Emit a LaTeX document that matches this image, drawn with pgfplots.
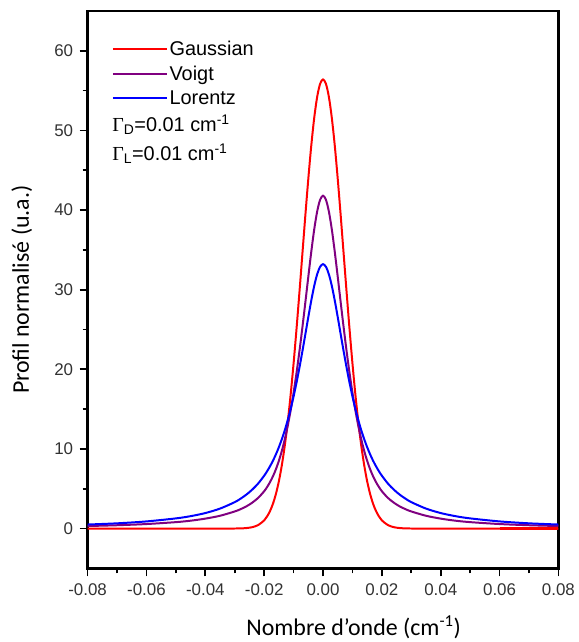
\documentclass[border=0pt]{standalone}
\usepackage{pgfplots}
\usepackage{pgfplotstable}
\pgfplotsset{compat=1.18}
\usepackage{fontspec}
\setmainfont{Liberation Sans}
\setsansfont{Liberation Sans}
\newfontfamily\carlito{Carlito}
\newfontfamily\serifG{Liberation Serif}
\definecolor{gaus}{RGB}{255,0,0}
\definecolor{voigt}{RGB}{128,0,128}
\definecolor{lor}{RGB}{0,0,255}
\definecolor{ticktext}{RGB}{50,50,50}

\pgfplotstableread{
x G V L
-0.080 0.00 0.32 0.51
-0.070 0.00 0.42 0.66
-0.060 0.00 0.57 0.90
-0.050 0.00 0.81 1.28
-0.045 0.00 0.99 1.56
-0.040 0.00 1.25 1.95
-0.035 0.00 1.61 2.51
-0.030 0.01 2.15 3.32
-0.028 0.02 2.44 3.76
-0.026 0.07 2.80 4.28
-0.024 0.18 3.27 4.91
-0.022 0.45 3.87 5.68
-0.020 1.03 4.69 6.64
-0.019 1.53 5.22 7.20
-0.018 2.21 5.84 7.83
-0.017 3.13 6.58 8.53
-0.016 4.36 7.46 9.33
-0.015 5.94 8.51 10.22
-0.014 7.95 9.75 11.22
-0.013 10.41 11.20 12.34
-0.012 13.36 12.89 13.61
-0.011 16.82 14.84 15.02
-0.010 20.75 17.06 16.60
-0.009 25.09 19.56 18.34
-0.008 29.74 22.31 20.24
-0.007 34.55 25.29 22.28
-0.006 39.35 28.42 24.41
-0.005 43.92 31.62 26.56
-0.004 48.06 34.73 28.62
-0.003 51.54 37.54 30.46
-0.002 54.19 39.80 31.92
-0.001 55.84 41.28 32.87
0.000 56.40 41.80 33.20
0.001 55.84 41.28 32.87
0.002 54.19 39.80 31.92
0.003 51.54 37.54 30.46
0.004 48.06 34.73 28.62
0.005 43.92 31.62 26.56
0.006 39.35 28.42 24.41
0.007 34.55 25.29 22.28
0.008 29.74 22.31 20.24
0.009 25.09 19.56 18.34
0.010 20.75 17.06 16.60
0.011 16.82 14.84 15.02
0.012 13.36 12.89 13.61
0.013 10.41 11.20 12.34
0.014 7.95 9.75 11.22
0.015 5.94 8.51 10.22
0.016 4.36 7.46 9.33
0.017 3.13 6.58 8.53
0.018 2.21 5.84 7.83
0.019 1.53 5.22 7.20
0.020 1.03 4.69 6.64
0.022 0.45 3.87 5.68
0.024 0.18 3.27 4.91
0.026 0.07 2.80 4.28
0.028 0.02 2.44 3.76
0.030 0.01 2.15 3.32
0.035 0.00 1.61 2.51
0.040 0.00 1.25 1.95
0.045 0.00 0.99 1.56
0.050 0.00 0.81 1.28
0.060 0.00 0.57 0.90
0.070 0.00 0.42 0.66
0.080 0.00 0.32 0.51
}\profiles

\pgfplotsset{
  gstyle/.style={gaus, line width=2pt},
  vstyle/.style={voigt, line width=2pt},
  lstyle/.style={lor, line width=2pt},
}

\begin{document}
\begin{tikzpicture}
\begin{axis}[
  scale only axis, width=473pt, height=560pt,
  clip=false,
  xmin=-0.08, xmax=0.08, ymin=-5, ymax=65,
  xtick={-0.08,-0.06,-0.04,-0.02,0,0.02,0.04,0.06,0.08},
  ytick={0,10,20,30,40,50,60},
  minor x tick num=1, minor y tick num=1,
  tick pos=left, tick align=outside,
  major tick length=8pt, minor tick length=5pt,
  every tick/.style={black, line width=1.8pt},
  axis line style={line width=2.4pt, black},
  /pgf/number format/assume math mode=true,
  tick label style={font=\fontsize{17}{20}\selectfont, text=ticktext},
  xticklabel style={/pgf/number format/fixed, /pgf/number format/fixed zerofill, /pgf/number format/precision=2, yshift=-4pt},
  yticklabel style={/pgf/number format/fixed, /pgf/number format/precision=0, xshift=-3pt},
  scaled x ticks=false,
  xlabel={\carlito Nombre d’onde (cm\textsuperscript{-1})},
  ylabel={\carlito Profil normalisé (u.a.)},
  label style={font=\fontsize{24}{28}\selectfont},
  xlabel style={at={(axis description cs:0.565,-0.1054)}, anchor=center},
  ylabel style={at={(axis description cs:-0.1395,0.5)}, anchor=center},
  legend style={at={(axis description cs:0.051,0.95)}, anchor=north west,
    draw=none, fill=none, font=\fontsize{20}{24}\selectfont,
    row sep=5pt, inner sep=0pt, cells={anchor=west}},
  legend image code/.code={\draw[#1] (0pt,0pt) -- (54pt,0pt);},
  legend image post style={line width=2pt},
]
\addplot[gstyle, smooth] table[x=x, y=G] {\profiles};
\addlegendentry{Gaussian}
\addplot[vstyle, smooth] table[x=x, y=V] {\profiles};
\addlegendentry{Voigt}
\addplot[lstyle, smooth] table[x=x, y=L] {\profiles};
\addlegendentry{Lorentz}
\addplot[gaus, line width=3pt, forget plot] coordinates {(0.06,0) (0.08,0)};
\node[anchor=west, font=\fontsize{20}{24}\selectfont] at (axis description cs:0.045,0.796)
  {{\serifG Γ}\textsubscript{D}=0.01 cm\textsuperscript{-1}};
\node[anchor=west, font=\fontsize{20}{24}\selectfont] at (axis description cs:0.045,0.744)
  {{\serifG Γ}\textsubscript{L}=0.01 cm\textsuperscript{-1}};
\path (rel axis cs:0,0) ++(-88pt,-71pt) rectangle ++(580pt,642pt);
\end{axis}
\end{tikzpicture}
\end{document}
